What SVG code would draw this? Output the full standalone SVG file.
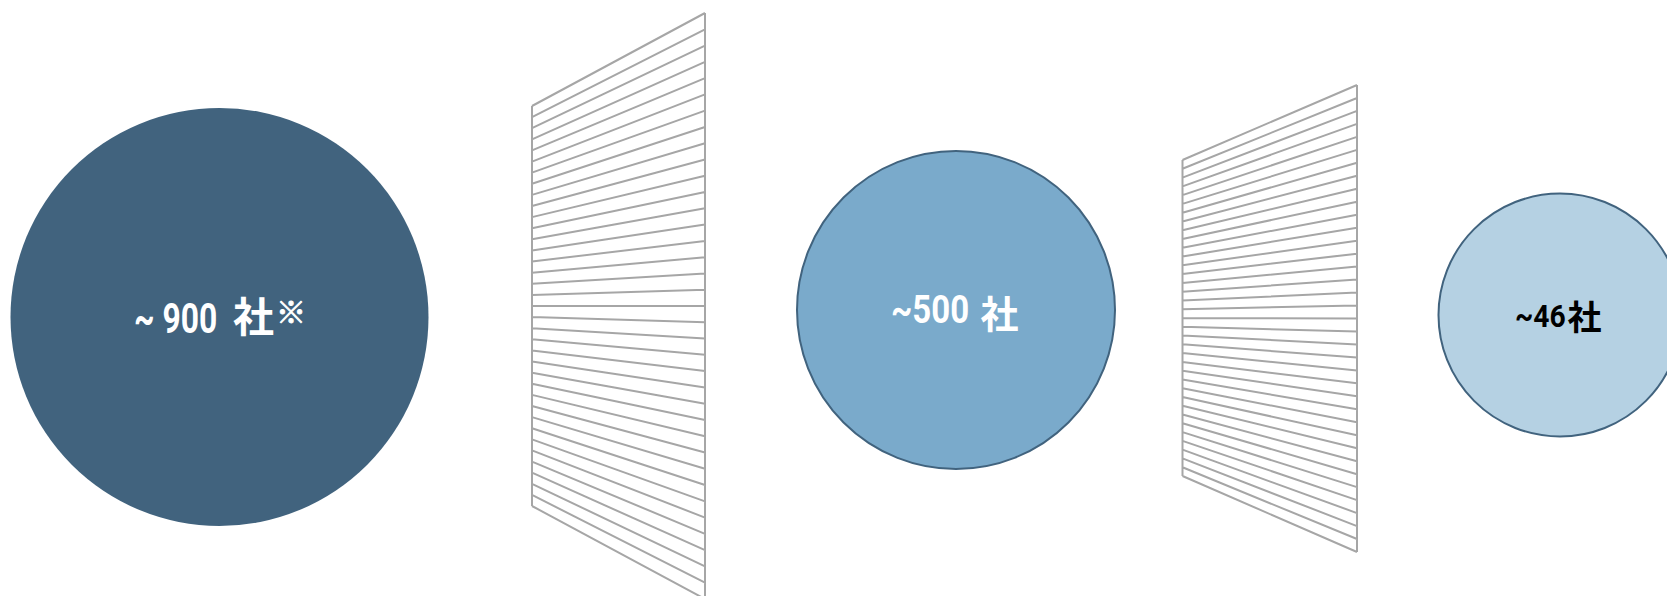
<svg xmlns="http://www.w3.org/2000/svg" width="1667" height="596" viewBox="0 0 1667 596">
<style>
.lbl{font-family:Roboto,"Liberation Sans",sans-serif;font-weight:bold}
.cjk{font-family:"Noto Sans CJK JP","Noto Sans CJK SC",sans-serif;font-weight:bold}
.w{fill:#FFFFFF}
.k{fill:#000000}
.funnel{fill:none;stroke:#A6A6A6;stroke-width:2}
</style>
<rect width="1667" height="596" fill="#FFFFFF"/>
<g id="node-900">
<circle cx="219.5" cy="317" r="209" fill="#41637E"/>
<text class="lbl w" transform="translate(134,333) scale(0.757,1)" font-size="42">~ 900</text>
<text class="cjk w" x="233" y="332" font-size="41">社</text>
<text class="cjk w" x="291" y="323" font-size="30" text-anchor="middle" stroke="#FFFFFF" stroke-width="0.8">※</text>
</g>
<g id="filter-1">
<path class="funnel" d="M532,106V506M705,13V599M532,106L705,13M532,117.11L705,29.28M532,128.22L705,45.56M532,139.33L705,61.83M532,150.44L705,78.11M532,161.56L705,94.39M532,172.67L705,110.67M532,183.78L705,126.94M532,194.89L705,143.22M532,206L705,159.5M532,217.11L705,175.78M532,228.22L705,192.06M532,239.33L705,208.33M532,250.44L705,224.61M532,261.56L705,240.89M532,272.67L705,257.17M532,283.78L705,273.44M532,294.89L705,289.72M532,306L705,306M532,317.11L705,322.28M532,328.22L705,338.56M532,339.33L705,354.83M532,350.44L705,371.11M532,361.56L705,387.39M532,372.67L705,403.67M532,383.78L705,419.94M532,394.89L705,436.22M532,406L705,452.5M532,417.11L705,468.78M532,428.22L705,485.06M532,439.33L705,501.33M532,450.44L705,517.61M532,461.56L705,533.89M532,472.67L705,550.17M532,483.78L705,566.44M532,494.89L705,582.72M532,506L705,599"/>
</g>
<g id="node-500">
<circle cx="956" cy="310" r="159" fill="#7AAACB" stroke="#41637E" stroke-width="2"/>
<text class="lbl w" transform="translate(891,323) scale(0.868,1)" font-size="38">~500</text>
<text class="cjk w" x="980.5" y="328" font-size="38">社</text>
</g>
<g id="filter-2">
<path class="funnel" d="M1182.5,160V476M1357,85V552M1182.5,160L1357,85M1182.5,168.78L1357,97.97M1182.5,177.56L1357,110.94M1182.5,186.33L1357,123.92M1182.5,195.11L1357,136.89M1182.5,203.89L1357,149.86M1182.5,212.67L1357,162.83M1182.5,221.44L1357,175.81M1182.5,230.22L1357,188.78M1182.5,239L1357,201.75M1182.5,247.78L1357,214.72M1182.5,256.56L1357,227.69M1182.5,265.33L1357,240.67M1182.5,274.11L1357,253.64M1182.5,282.89L1357,266.61M1182.5,291.67L1357,279.58M1182.5,300.44L1357,292.56M1182.5,309.22L1357,305.53M1182.5,318L1357,318.5M1182.5,326.78L1357,331.47M1182.5,335.56L1357,344.44M1182.5,344.33L1357,357.42M1182.5,353.11L1357,370.39M1182.5,361.89L1357,383.36M1182.5,370.67L1357,396.33M1182.5,379.44L1357,409.31M1182.5,388.22L1357,422.28M1182.5,397L1357,435.25M1182.5,405.78L1357,448.22M1182.5,414.56L1357,461.19M1182.5,423.33L1357,474.17M1182.5,432.11L1357,487.14M1182.5,440.89L1357,500.11M1182.5,449.67L1357,513.08M1182.5,458.44L1357,526.06M1182.5,467.22L1357,539.03M1182.5,476L1357,552"/>
</g>
<g id="node-46">
<circle cx="1560" cy="315" r="121.5" fill="#B5D1E3" stroke="#41637E" stroke-width="2"/>
<text class="lbl k" transform="translate(1515,327) scale(0.912,1)" font-size="31">~46</text>
<text class="cjk k" x="1567.5" y="329.5" font-size="34">社</text>
</g>
</svg>
